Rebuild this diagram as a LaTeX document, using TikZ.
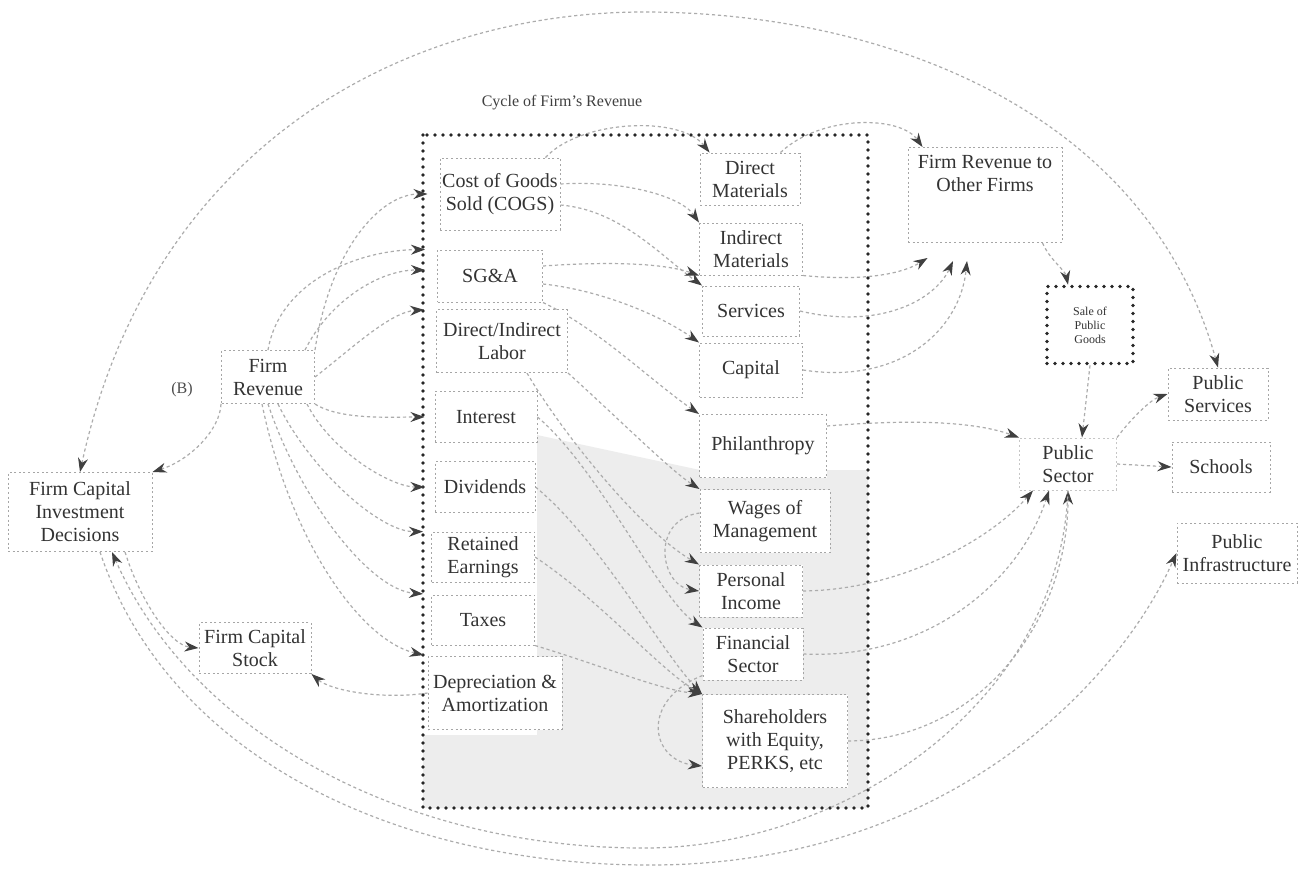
\documentclass[tikz,border=0pt]{standalone}
\usepackage{fontspec}
\setmainfont{Liberation Serif}
\usetikzlibrary{arrows.meta,calc}
\pgfdeclarelayer{bg}
\pgfsetlayers{bg,main}

\tikzset{
  flowtip/.tip={Stealth[length=7pt,width=5pt,color=black!75]},
  box/.style={draw=gray!70, line width=0.5pt, dash pattern=on 1pt off 1.3pt,
    fill=white, align=center, inner sep=1pt,
    font=\fontsize{10}{11.5}\selectfont, text=black!80},
  sz/.style 2 args={minimum width=#1pt, minimum height=#2pt},
  heavy/.style={draw=black!85, line width=1.8pt, dash pattern=on 0pt off 4pt, line cap=round},
  flow/.style={draw=gray!65, line width=0.6pt, dash pattern=on 1.6pt off 1.4pt, -flowtip},
  loose/.style={shorten >=#1pt},
}

\begin{document}
\begin{tikzpicture}[x=0.5pt,y=-0.5pt]
\useasboundingbox (0,0) rectangle (1302,875);

% title
\node[font=\fontsize{8}{10}\selectfont, text=black!75] (title) at (562,103) {Cycle of Firm's Revenue};

% uses of revenue (left column)
\node[box, sz={60}{36}]     (cogs)      at (500,194) {Cost of Goods\\Sold (COGS)};
\node[box, sz={52.5}{26}]   (sga)       at (490,276) {SG\&A};
\node[box, sz={65.5}{31.5}] (labor)     at (502,341) {Direct/Indirect\\Labor};
\node[box, sz={51}{25.5}]   (interest)  at (486,417) {Interest};
\node[box, sz={50}{25.5}]   (dividends) at (485,487) {Dividends};
\node[box, sz={51.5}{25}]   (retained)  at (483,557) {Retained\\Earnings};
\node[box, sz={51.5}{25}]   (taxes)     at (483,620) {Taxes};
\node[box, sz={67}{36.5}]   (deprec)    at (495,693) {Depreciation \&\\Amortization};

% recipients (right column)
\node[box, sz={50}{26}]     (dmat)     at (750,179) {Direct\\Materials};
\node[box, sz={51.5}{26}]   (imat)     at (751,249) {Indirect\\Materials};
\node[box, sz={48.5}{25}]   (services) at (751,311) {Services};
\node[box, sz={51.5}{27}]   (capital)  at (751,370) {Capital};
\node[box, sz={63.5}{31.5}] (phil)     at (763,446) {Philanthropy};
\node[box, sz={65}{31.5}]   (wages)    at (765,521) {Wages of\\Management};
\node[box, sz={51.5}{26}]   (pincome)  at (751,591) {Personal\\Income};
\node[box, sz={50}{26}]     (finsec)   at (753,654) {Financial\\Sector};
\node[box, sz={72.5}{46.5}] (share)    at (775,741) {Shareholders\\with Equity,\\PERKS, etc};

% outside the firm
\node[box, sz={77}{47.5}]   (revother) at (985,195) {Firm Revenue to\\Other Firms\\[10pt]\mbox{}};
\node[box, heavy, sz={43}{38.5}, font=\fontsize{6}{7}\selectfont] (salepub) at (1090,325) {Sale of\\Public\\Goods};
\node[box, draw=gray!45, sz={48.5}{26}]   (pubsec)   at (1068,464) {Public\\Sector};
\node[box, sz={50}{26}]     (pubserv)  at (1218,394) {Public\\Services};
\node[box, sz={49}{25}]     (schools)  at (1221,467) {Schools};
\node[box, sz={60}{30}]     (pubinfra) at (1237,553) {Public\\Infrastructure};
\node[box, sz={46.5}{26.5}] (firmrev)  at (268,377) {Firm\\Revenue};
\node[box, sz={72}{39.5}]   (fcid)     at (80,512)  {Firm Capital\\Investment\\Decisions};
\node[box, sz={56}{25.5}]   (fcs)      at (255,648) {Firm Capital\\Stock};
\node[font=\fontsize{8}{9}\selectfont, text=black!70] (loop) at (182,390) {(B)};

\begin{pgfonlayer}{bg}
  \fill[white] (0,0) rectangle (1302,875);
  % shaded area of the revenue cycle
  \fill[gray!14] (537,435) -- (700,470) -- (868,470) -- (868,808) -- (423,808) -- (423,735) -- (537,735) -- cycle;
  % the firm's revenue cycle
  \draw[heavy] (423,135) rectangle (868,808);

  % outer loop over the top
  \draw[flow, flowtip-flowtip] (fcid.north) .. controls (150,150) and (400,10) .. (650,12)
        .. controls (900,14) and (1150,120) .. (pubserv.north);

  % firm revenue into the cost items
  \draw[flow, loose=6] (firmrev.north east) .. controls (330,250) and (380,194) .. (cogs.west);
  \draw[flow, loose=6] (firmrev.north) .. controls (280,280) and (360,250) .. (sga.north west);
  \draw[flow, loose=6] ($(firmrev.north east)+(-10,0)$) .. controls (330,300) and (380,270) .. ($(sga.west)+(0,-6)$);
  \draw[flow, loose=6] (firmrev.east) .. controls (350,350) and (390,312) .. (labor.north west);
  \draw[flow, loose=5] (firmrev.south east) .. controls (340,420) and (390,417) .. (interest.west);
  \draw[flow, loose=5] ($(firmrev.south east)+(-8,0)$) .. controls (330,450) and (390,487) .. (dividends.west);
  \draw[flow, loose=4] ($(firmrev.south)+(10,0)$) .. controls (310,470) and (380,532) .. (retained.north west);
  \draw[flow, loose=4] (firmrev.south) .. controls (300,500) and (370,590) .. (taxes.north west);
  \draw[flow, loose=2] ($(firmrev.south)+(-6,0)$) .. controls (290,540) and (360,640) .. (deprec.north west);

  % left side
  \draw[flow] (firmrev.south west) .. controls (220,430) and (190,460) .. (fcid.north east);
  \draw[flow] ($(fcid.south)+(45,0)$) .. controls (140,600) and (170,645) .. (fcs.west);
  \draw[flow] (deprec.west) .. controls (380,700) and (330,690) .. (fcs.south east);

  % top arcs
  \draw[flow] ($(cogs.north east)+(-15,0)$) .. controls (580,120) and (680,115) .. ($(dmat.north west)+(10,0)$);
  \draw[flow] ($(dmat.north east)+(-20,0)$) .. controls (820,115) and (900,115) .. ($(revother.north west)+(15,0)$);

  % cost items to recipients
  \draw[flow] ($(cogs.east)+(0,-10)$) .. controls (620,180) and (680,195) .. (imat.north west);
  \draw[flow] ($(cogs.east)+(0,11)$) .. controls (620,210) and (660,255) .. (services.north west);
  \draw[flow] ($(sga.east)+(0,-10)$) .. controls (600,262) and (660,262) .. (imat.south west);
  \draw[flow] ($(sga.east)+(0,8)$) .. controls (600,290) and (660,315) .. (capital.north west);
  \draw[flow] (sga.south east) .. controls (600,330) and (650,380) .. (phil.north west);
  \draw[flow] (labor.south east) .. controls (620,420) and (670,470) .. (wages.north west);
  \draw[flow] ($(labor.south)+(25,0)$) .. controls (560,430) and (640,530) .. (pincome.north west);
  \draw[flow] (interest.east) .. controls (600,470) and (660,600) .. (finsec.north west);
  \draw[flow] (dividends.east) .. controls (600,540) and (660,650) .. (share.north west);
  \draw[flow] (retained.east) .. controls (600,600) and (660,670) .. (share.north west);
  \draw[flow] (taxes.south east) .. controls (600,665) and (660,690) .. (share.north west);
  \draw[flow] ($(wages.west)+(0,-8)$) .. controls (650,520) and (660,585) .. (pincome.west);
  \draw[flow] ($(finsec.south west)+(0,-5)$) .. controls (640,700) and (650,760) .. ($(share.west)+(0,25)$);

  % recipients to other firms
  \draw[flow] (imat.south east) .. controls (870,282) and (905,272) .. ($(revother.south west)+(20,15)$);
  \draw[flow] (services.east) .. controls (880,330) and (935,300) .. ($(revother.south)+(-32,18)$);
  \draw[flow] (capital.east) .. controls (900,385) and (960,330) .. ($(revother.south)+(-18,18)$);

  % recipients to the public sector
  \draw[flow] ($(phil.north east)+(0,12)$) .. controls (900,420) and (970,420) .. (pubsec.north west);
  \draw[flow] (pincome.east) .. controls (900,590) and (990,540) .. ($(pubsec.south west)+(14,0)$);
  \draw[flow] (finsec.east) .. controls (930,660) and (1020,580) .. ($(pubsec.south west)+(30,0)$);
  \draw[flow] (share.east) .. controls (980,740) and (1068,620) .. (pubsec.south);

  % public side
  \draw[flow] ($(revother.south east)+(-20,0)$) .. controls (1050,260) and (1065,270) .. ($(salepub.north)+(-22,0)$);
  \draw[flow] (salepub.south) -- ($(pubsec.north)+(14,0)$);
  \draw[flow] (pubsec.north east) .. controls (1130,420) and (1150,400) .. (pubserv.west);
  \draw[flow] (pubsec.east) -- (schools.west);

  % loops under the bottom
  \draw[flow] ($(fcid.south)+(20,0)$) .. controls (170,760) and (400,865) .. (650,865)
        .. controls (950,865) and (1120,680) .. (pubinfra.west);
  \draw[flow] (pubsec.south) .. controls (1060,700) and (850,845) .. (650,848)
        .. controls (400,850) and (190,730) .. ($(fcid.south)+(32,0)$);
\end{pgfonlayer}
\end{tikzpicture}
\end{document}
